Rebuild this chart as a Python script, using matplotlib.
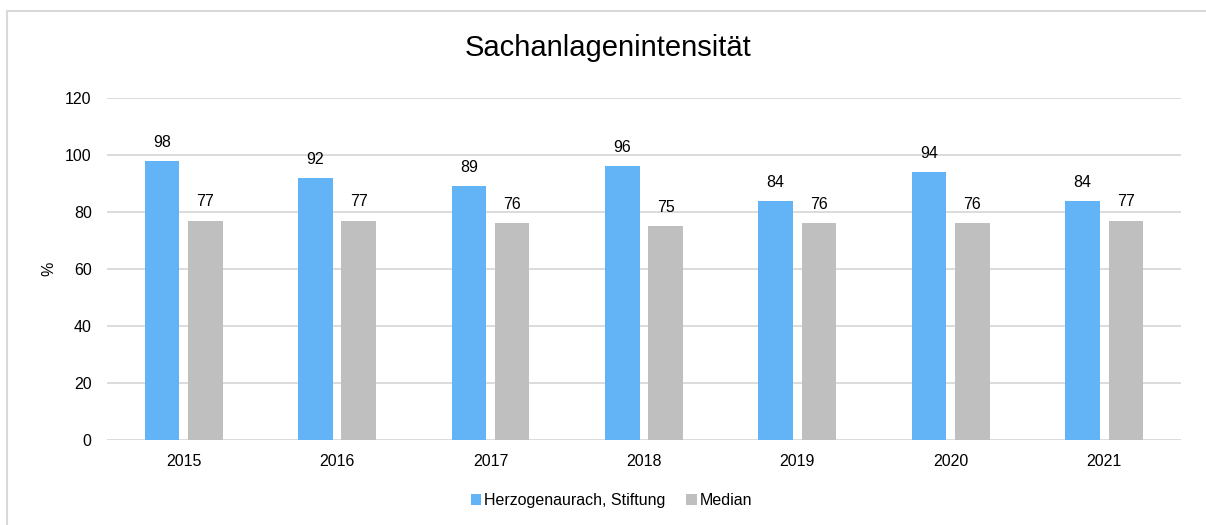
import numpy as np
import matplotlib.pyplot as plt
from matplotlib.patches import Rectangle

plt.rcParams['font.family'] = ['Liberation Sans', 'DejaVu Sans']

years = ['2015', '2016', '2017', '2018', '2019', '2020', '2021']
stiftung = [98, 92, 89, 96, 84, 94, 84]
median = [77, 77, 76, 75, 76, 76, 77]

blue = '#63B4F6'
grey = '#BFBFBF'
grid_col = '#D9D9D9'

fig = plt.figure(figsize=(12.06, 5.25), dpi=100)
ax = fig.add_axes([0.0887, 0.1619, 0.8905, 0.6514])

# outer chart border (runs off the right and bottom edge)
fig.patches.append(Rectangle((7 / 1206, -0.1), 1.2, 1 - 11 / 525 + 0.1,
                             transform=fig.transFigure, fill=False,
                             edgecolor=grid_col, linewidth=1.5))

x = np.arange(len(years))
w = 0.225
b1 = ax.bar(x - 0.141, stiftung, w, color=blue, label='Herzogenaurach, Stiftung', zorder=3)
b2 = ax.bar(x + 0.141, median, w, color=grey, label='Median', zorder=3)

for bars, vals in [(b1, stiftung), (b2, median)]:
    for bar, v in zip(bars, vals):
        ax.annotate(str(v), (bar.get_x() + bar.get_width() / 2, v),
                    xytext=(0, 8), textcoords='offset points',
                    ha='center', va='bottom', fontsize=11.5, color='#000000')

ax.set_xlim(-0.5, len(years) - 0.5)
ax.set_ylim(0, 120)
ax.set_yticks(range(0, 121, 20))
ax.set_xticks(x)
ax.set_xticklabels(years)
ax.tick_params(length=0, labelsize=11.5, pad=10)
ax.tick_params(axis='y', pad=11)
ax.grid(axis='y', color=grid_col, linewidth=1.3, zorder=0)
for s in ax.spines.values():
    s.set_visible(False)

ax.set_ylabel('%', fontsize=11.5, labelpad=6)
fig.text(0.504, 0.908, 'Sachanlagenintensität', ha='center', va='center', fontsize=21)

fig.legend(loc='center', bbox_to_anchor=(0.507, 0.046), ncol=2, frameon=False,
           fontsize=11.5, handlelength=0.65, handleheight=0.65, handletextpad=0.2,
           columnspacing=1.3)

fig.savefig('out.png', dpi=100)
